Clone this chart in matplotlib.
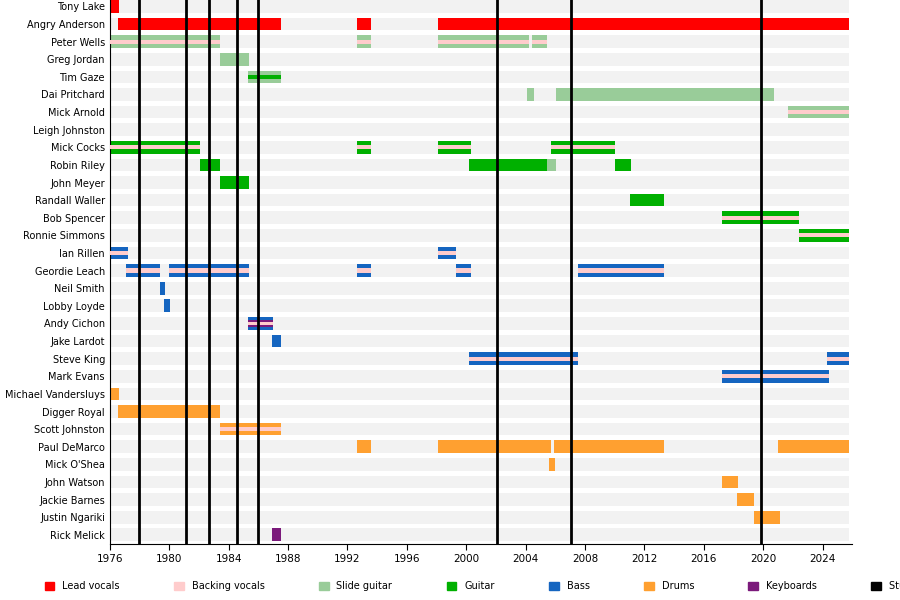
import matplotlib
matplotlib.use("Agg")
import matplotlib.pyplot as plt
from matplotlib.patches import Patch

members = ["Tony Lake","Angry Anderson","Peter Wells","Greg Jordan","Tim Gaze","Dai Pritchard",
           "Mick Arnold","Leigh Johnston","Mick Cocks","Robin Riley","John Meyer","Randall Waller",
           "Bob Spencer","Ronnie Simmons","Ian Rillen","Geordie Leach","Neil Smith","Lobby Loyde",
           "Andy Cichon","Jake Lardot","Steve King","Mark Evans","Michael Vandersluys","Digger Royal",
           "Scott Johnston","Paul DeMarco","Mick O'Shea","John Watson","Jackie Barnes","Justin Ngariki",
           "Rick Melick"]

colors = {"Lead vocals":"#ff0000","Backing vocals":"#ffcccc","Slide guitar":"#99cc99",
          "Guitar":"#00b000","Bass":"#1565c0","Drums":"#ffa030","Keyboards":"#7b1a7b",
          "Studio Album":"#000000"}

END = 2025.8
spans = [
 ("Tony Lake",1976.0,1976.6,"Lead vocals",None),
 ("Angry Anderson",1976.55,1987.55,"Lead vocals",None),
 ("Angry Anderson",1992.65,1993.6,"Lead vocals",None),
 ("Angry Anderson",1998.1,END,"Lead vocals",None),
 ("Peter Wells",1976.0,1983.45,"Slide guitar","Backing vocals"),
 ("Peter Wells",1992.65,1993.6,"Slide guitar","Backing vocals"),
 ("Peter Wells",1998.1,2004.2,"Slide guitar","Backing vocals"),
 ("Peter Wells",2004.45,2005.45,"Slide guitar","Backing vocals"),
 ("Greg Jordan",1983.45,1985.35,"Slide guitar",None),
 ("Tim Gaze",1985.3,1987.5,"Slide guitar","Guitar"),
 ("Dai Pritchard",2004.1,2004.55,"Slide guitar",None),
 ("Dai Pritchard",2006.05,2020.7,"Slide guitar",None),
 ("Mick Arnold",2021.7,END,"Slide guitar","Backing vocals"),
 ("Leigh Johnston",1976.0,1976.1,"Guitar",None),
 ("Mick Cocks",1976.0,1982.1,"Guitar","Backing vocals"),
 ("Mick Cocks",1992.65,1993.6,"Guitar","Backing vocals"),
 ("Mick Cocks",1998.1,2000.3,"Guitar","Backing vocals"),
 ("Mick Cocks",2005.7,2010.0,"Guitar","Backing vocals"),
 ("Robin Riley",1982.05,1983.45,"Guitar",None),
 ("Robin Riley",2000.2,2005.45,"Guitar",None),
 ("Robin Riley",2005.45,2006.05,"Slide guitar",None),
 ("Robin Riley",2010.0,2011.1,"Guitar",None),
 ("John Meyer",1983.45,1985.35,"Guitar",None),
 ("Randall Waller",2011.0,2013.3,"Guitar",None),
 ("Bob Spencer",2017.2,2022.4,"Guitar","Backing vocals"),
 ("Ronnie Simmons",2022.4,END,"Guitar","Backing vocals"),
 ("Ian Rillen",1976.0,1977.2,"Bass","Backing vocals"),
 ("Ian Rillen",1998.1,1999.3,"Bass","Backing vocals"),
 ("Geordie Leach",1977.1,1979.4,"Bass","Backing vocals"),
 ("Geordie Leach",1980.0,1985.35,"Bass","Backing vocals"),
 ("Geordie Leach",1992.65,1993.6,"Bass","Backing vocals"),
 ("Geordie Leach",1999.3,2000.3,"Bass","Backing vocals"),
 ("Geordie Leach",2007.5,2013.3,"Bass","Backing vocals"),
 ("Neil Smith",1979.35,1979.7,"Bass",None),
 ("Lobby Loyde",1979.65,1980.05,"Bass",None),
 ("Andy Cichon",1985.3,1987.0,"Bass","Keyboards"),
 ("Jake Lardot",1986.95,1987.5,"Bass",None),
 ("Steve King",2000.2,2007.5,"Bass","Backing vocals"),
 ("Steve King",2024.3,END,"Bass","Backing vocals"),
 ("Mark Evans",2017.2,2024.4,"Bass","Backing vocals"),
 ("Michael Vandersluys",1976.0,1976.6,"Drums",None),
 ("Digger Royal",1976.55,1983.45,"Drums",None),
 ("Scott Johnston",1983.45,1987.5,"Drums","Backing vocals"),
 ("Paul DeMarco",1992.65,1993.6,"Drums",None),
 ("Paul DeMarco",1998.1,2005.7,"Drums",None),
 ("Paul DeMarco",2005.9,2013.3,"Drums",None),
 ("Paul DeMarco",2021.0,END,"Drums",None),
 ("Mick O'Shea",2005.6,2006.0,"Drums",None),
 ("John Watson",2017.2,2018.3,"Drums",None),
 ("Jackie Barnes",2018.25,2019.4,"Drums",None),
 ("Justin Ngariki",2019.35,2021.1,"Drums",None),
 ("Rick Melick",1986.95,1987.5,"Keyboards",None),
]
albums = [1978.0, 1981.1, 1982.65, 1984.55, 1985.95, 2002.1, 2007.05, 2019.85]

fig = plt.figure(figsize=(9,6), dpi=100)
ax = fig.add_axes([0.122, 0.094, 0.825, 0.91])
n = len(members)
ypos = {m: i for i, m in enumerate(members)}
for i in range(n):
    ax.barh(i, END-1976, left=1976, height=0.72, color="#f2f2f2", zorder=0)
for m, s, e, role, stripe in spans:
    y = ypos[m]
    ax.barh(y, e-s, left=s, height=0.72, color=colors[role], zorder=2, linewidth=0)
    if stripe == "Keyboards":
        ax.barh(y, e-s, left=s, height=0.42, color=colors[stripe], zorder=3, linewidth=0)
        ax.barh(y, e-s, left=s, height=0.22, color=colors["Backing vocals"], zorder=4, linewidth=0)
    elif stripe:
        ax.barh(y, e-s, left=s, height=0.24, color=colors[stripe], zorder=3, linewidth=0)
for a in albums:
    ax.axvline(a, color="black", lw=2, zorder=5)
ax.set_ylim(n-0.5, -0.5)
ax.set_xlim(1976, 2026)
ax.set_yticks(range(n))
ax.set_yticklabels(members, fontsize=7)
ax.set_xticks(range(1976, 2026, 4))
ax.tick_params(axis='x', labelsize=7.5, length=4)
ax.tick_params(axis='y', length=0)
for s in ["top","right"]:
    ax.spines[s].set_visible(False)
ax.spines["left"].set_linewidth(0.8)
ax.spines["bottom"].set_linewidth(0.8)

handles = [Patch(color=c, label=l) for l, c in colors.items()]
fig.legend(handles=handles, loc="lower center", ncol=8, frameon=False, fontsize=7,
           handlelength=1.0, handleheight=1.0, columnspacing=5.6, bbox_to_anchor=(0.555, 0.0))
fig.savefig("out.png", dpi=100)
